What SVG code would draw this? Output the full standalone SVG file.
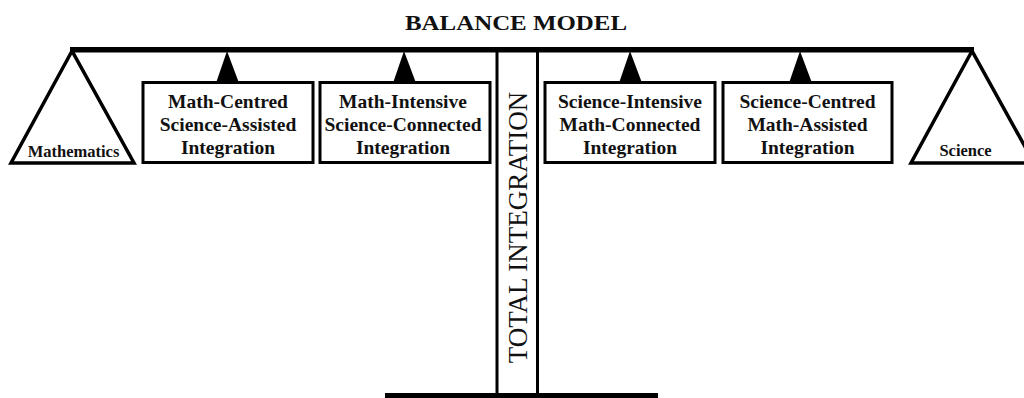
<svg xmlns="http://www.w3.org/2000/svg" width="1024" height="398" viewBox="0 0 1024 398">
<style>
.bg{fill:#fff}
.pan{fill:none;stroke:#000;stroke-width:3.5;stroke-linejoin:miter}
.box{fill:#fff;stroke:#000;stroke-width:3}
.peg{fill:#000}
.bt{font-family:"Liberation Serif","Times New Roman",serif;font-weight:bold;font-size:19.5px;fill:#111;text-anchor:middle}
.pt{font-family:"Liberation Serif","Times New Roman",serif;font-weight:bold;font-size:16.5px;fill:#111;text-anchor:middle}
.title{font-family:"Liberation Serif","Times New Roman",serif;font-weight:bold;font-size:22px;fill:#111;text-anchor:middle}
.vt{font-family:"Liberation Serif","Times New Roman",serif;font-size:27px;fill:#111;text-anchor:middle}
</style>
<rect class="bg" x="0" y="0" width="1024" height="398"/>
<g id="title"><text class="title" x="516" y="30" textLength="222" lengthAdjust="spacingAndGlyphs">BALANCE MODEL</text></g>
<g id="connectors">
<rect x="70" y="47" width="904" height="5.5" fill="#000"/>
<line x1="497" y1="50" x2="497" y2="395" stroke="#000" stroke-width="3"/>
<line x1="537.5" y1="50" x2="537.5" y2="395" stroke="#000" stroke-width="3"/>
<rect x="385" y="393" width="273" height="5" fill="#000"/>
<polygon class="peg" points="227,51 216,83 239,83"/>
<polygon class="peg" points="404,51 393,83 416,83"/>
<polygon class="peg" points="630,51 619,83 642,83"/>
<polygon class="peg" points="800,51 789,83 812,83"/>
</g>
<g id="total-integration"><text class="vt" transform="translate(527,227.5) rotate(-90)" x="0" y="0">TOTAL INTEGRATION</text></g>
<g id="mathematics">
<polygon class="pan" points="72,51 11,163 134,163"/>
<text class="pt" x="73.5" y="157">Mathematics</text>
</g>
<g id="science">
<polygon class="pan" points="972,51 911,163 1034,163"/>
<text class="pt" x="965.5" y="155.5">Science</text>
</g>
<g id="box1">
<rect class="box" x="143" y="82.5" width="170" height="80"/>
<text class="bt" x="228" y="107.5">Math-Centred</text>
<text class="bt" x="228" y="130.5">Science-Assisted</text>
<text class="bt" x="228" y="153.5">Integration</text>
</g>
<g id="box2">
<rect class="box" x="320" y="82.5" width="170" height="80"/>
<text class="bt" x="403" y="107.5">Math-Intensive</text>
<text class="bt" x="403" y="130.5">Science-Connected</text>
<text class="bt" x="403" y="153.5">Integration</text>
</g>
<g id="box3">
<rect class="box" x="545" y="82.5" width="170" height="80"/>
<text class="bt" x="630" y="107.5">Science-Intensive</text>
<text class="bt" x="630" y="130.5">Math-Connected</text>
<text class="bt" x="630" y="153.5">Integration</text>
</g>
<g id="box4">
<rect class="box" x="723" y="82.5" width="169" height="80"/>
<text class="bt" x="807.5" y="107.5">Science-Centred</text>
<text class="bt" x="807.5" y="130.5">Math-Assisted</text>
<text class="bt" x="807.5" y="153.5">Integration</text>
</g>
</svg>
